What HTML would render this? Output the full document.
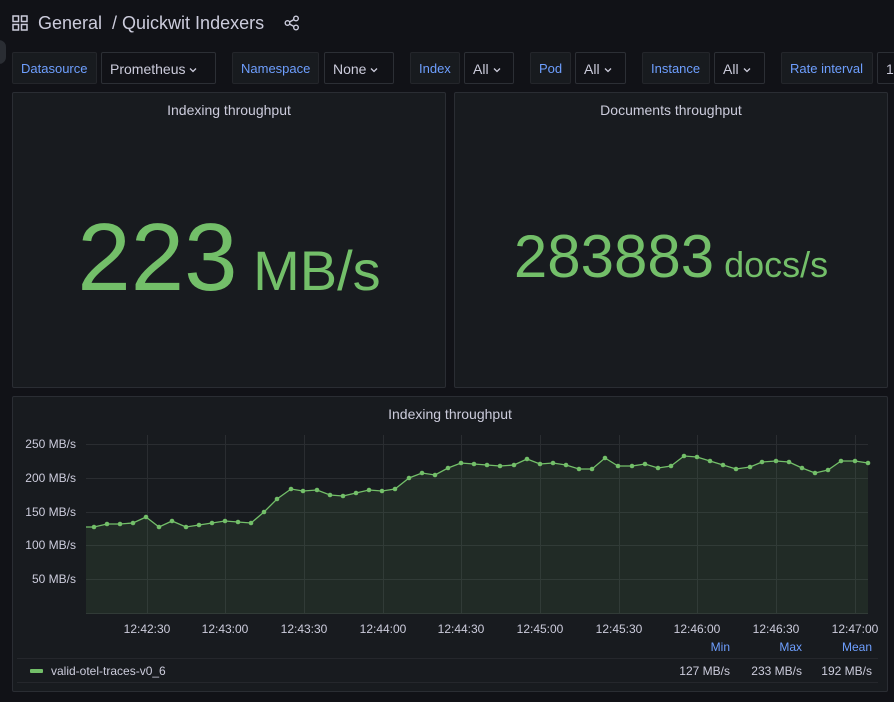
<!DOCTYPE html>
<html><head><meta charset="utf-8"><style>
*{margin:0;padding:0;box-sizing:border-box}
body{width:894px;height:702px;background:#111217;font-family:"Liberation Sans",sans-serif;color:#ccccdc;position:relative;overflow:hidden}
.a{position:absolute}
.lab{position:absolute;top:52px;height:32px;background:#181b1f;border:1px solid #24262b;border-radius:2px;color:#6e9fff;font-size:13px;line-height:32px;padding:0 8px}
.sel{position:absolute;top:52px;height:32px;background:#111217;border:1px solid #2c2f35;border-radius:2px;color:#ccccdc;font-size:14px;line-height:32px;padding:0 8px;white-space:nowrap}
.sel svg{vertical-align:middle;margin-left:4px}
.panel{position:absolute;background:#181b1f;border:1px solid #2a2d33;border-radius:2px}
.pt{position:absolute;left:0;right:0;text-align:center;font-size:14px;color:#ccccdc}
</style></head><body>
<svg class="a" style="left:12px;top:15px" width="16" height="16"><g fill="none" stroke="#ccccdc" stroke-width="1.5"><rect x="1" y="1" width="5.5" height="5.5"/><rect x="9.5" y="1" width="5.5" height="5.5"/><rect x="1" y="9.5" width="5.5" height="5.5"/><rect x="9.5" y="9.5" width="5.5" height="5.5"/></g></svg>
<div class="a" style="left:38px;top:13px;font-size:18px;color:#ccccdc">General &nbsp;/ Quickwit Indexers</div>
<svg class="a" style="left:284px;top:15px" width="16" height="16"><g fill="none" stroke="#ccccdc" stroke-width="1.4"><circle cx="12" cy="3.5" r="2.3"/><circle cx="3.5" cy="8" r="2.3"/><circle cx="12" cy="12.5" r="2.3"/><path d="M5.5 7L10 4.5M5.5 9L10 11.5"/></g></svg>
<div class="a" style="left:-8px;top:40px;width:14px;height:24px;border-radius:12px;background:#2a2d33"></div>
<div class="lab" style="left:12px;width:85px">Datasource</div>
<div class="sel" style="left:101px;width:115px">Prometheus<svg width="8" height="6"><path d="M1 1.5L4 4.5L7 1.5" fill="none" stroke="#ccccdc" stroke-width="1.3"/></svg></div>
<div class="lab" style="left:232px;width:87px">Namespace</div>
<div class="sel" style="left:324px;width:70px">None<svg width="8" height="6"><path d="M1 1.5L4 4.5L7 1.5" fill="none" stroke="#ccccdc" stroke-width="1.3"/></svg></div>
<div class="lab" style="left:410px;width:50px">Index</div>
<div class="sel" style="left:464px;width:50px">All<svg width="8" height="6"><path d="M1 1.5L4 4.5L7 1.5" fill="none" stroke="#ccccdc" stroke-width="1.3"/></svg></div>
<div class="lab" style="left:530px;width:41px">Pod</div>
<div class="sel" style="left:575px;width:51px">All<svg width="8" height="6"><path d="M1 1.5L4 4.5L7 1.5" fill="none" stroke="#ccccdc" stroke-width="1.3"/></svg></div>
<div class="lab" style="left:642px;width:68px">Instance</div>
<div class="sel" style="left:714px;width:51px">All<svg width="8" height="6"><path d="M1 1.5L4 4.5L7 1.5" fill="none" stroke="#ccccdc" stroke-width="1.3"/></svg></div>
<div class="lab" style="left:781px;width:92px">Rate interval</div>
<div class="sel" style="left:877px;width:40px">1(</div>

<div class="panel" style="left:12px;top:92px;width:434px;height:296px">
<div class="pt" style="top:9px">Indexing throughput</div>
<div class="a" style="left:0;right:0;top:110px;text-align:center;color:#73bf69;white-space:nowrap"><span style="font-size:96px;line-height:110px">223</span><span style="font-size:56px"> MB/s</span></div>
</div>
<div class="panel" style="left:454px;top:92px;width:434px;height:296px">
<div class="pt" style="top:9px">Documents throughput</div>
<div class="a" style="left:0;right:0;top:126px;text-align:center;color:#73bf69;white-space:nowrap"><span style="font-size:60px;line-height:76px">283883</span><span style="font-size:36px"> docs/s</span></div>
</div>
<div class="panel" style="left:12px;top:396px;width:876px;height:296px">
<div class="pt" style="top:9px">Indexing throughput</div>
</div>
<svg class="a" style="left:0;top:0" width="894" height="702">
<g stroke="#2a2d31" stroke-width="1">
<path d="M86 444.5H868M86 478.5H868M86 512.5H868M86 545.5H868M86 579.5H868M86 613.5H868"/>
<path d="M147.5 435V614M225.5 435V614M304.5 435V614M383.5 435V614M461.5 435V614M540.5 435V614M619.5 435V614M697.5 435V614M776.5 435V614M855.5 435V614"/>
</g>
<g font-family="Liberation Sans" font-size="12" fill="#ccccdc" text-anchor="end">
<text x="76" y="448">250 MB/s</text><text x="76" y="482">200 MB/s</text><text x="76" y="516">150 MB/s</text><text x="76" y="549">100 MB/s</text><text x="76" y="583">50 MB/s</text>
</g>
<g font-family="Liberation Sans" font-size="12" fill="#ccccdc" text-anchor="middle">
<text x="147" y="633">12:42:30</text><text x="225" y="633">12:43:00</text><text x="304" y="633">12:43:30</text><text x="383" y="633">12:44:00</text><text x="461" y="633">12:44:30</text><text x="540" y="633">12:45:00</text><text x="619" y="633">12:45:30</text><text x="697" y="633">12:46:00</text><text x="776" y="633">12:46:30</text><text x="855" y="633">12:47:00</text>
</g>
<polygon fill="#73bf69" fill-opacity="0.1" points="86,614 86,527 94,527 107,524 120,524 133,523 146,517 159,527 172,521 186,527 199,525 212,523 225,521 238,522 251,523 264,512 277,499 291,489 303,491 317,490 330,495 343,496 356,493 369,490 382,491 395,489 409,478 422,473 435,475 448,468 461,463 474,464 487,465 500,466 514,465 527,459 540,464 553,463 566,465 579,469 592,469 605,458 618,466 632,466 645,464 658,468 671,466 684,456 697,457 710,461 723,465 736,469 750,467 762,462 776,461 789,462 802,468 815,473 828,470 841,461 855,461 868,463 868,614"/>
<polyline fill="none" stroke="#73bf69" stroke-width="1.3" points="86,527 94,527 107,524 120,524 133,523 146,517 159,527 172,521 186,527 199,525 212,523 225,521 238,522 251,523 264,512 277,499 291,489 303,491 317,490 330,495 343,496 356,493 369,490 382,491 395,489 409,478 422,473 435,475 448,468 461,463 474,464 487,465 500,466 514,465 527,459 540,464 553,463 566,465 579,469 592,469 605,458 618,466 632,466 645,464 658,468 671,466 684,456 697,457 710,461 723,465 736,469 750,467 762,462 776,461 789,462 802,468 815,473 828,470 841,461 855,461 868,463"/>
<g fill="#73bf69">
<circle cx="94" cy="527" r="2.3"/><circle cx="107" cy="524" r="2.3"/><circle cx="120" cy="524" r="2.3"/><circle cx="133" cy="523" r="2.3"/><circle cx="146" cy="517" r="2.3"/><circle cx="159" cy="527" r="2.3"/><circle cx="172" cy="521" r="2.3"/><circle cx="186" cy="527" r="2.3"/><circle cx="199" cy="525" r="2.3"/><circle cx="212" cy="523" r="2.3"/><circle cx="225" cy="521" r="2.3"/><circle cx="238" cy="522" r="2.3"/><circle cx="251" cy="523" r="2.3"/><circle cx="264" cy="512" r="2.3"/><circle cx="277" cy="499" r="2.3"/><circle cx="291" cy="489" r="2.3"/><circle cx="303" cy="491" r="2.3"/><circle cx="317" cy="490" r="2.3"/><circle cx="330" cy="495" r="2.3"/><circle cx="343" cy="496" r="2.3"/><circle cx="356" cy="493" r="2.3"/><circle cx="369" cy="490" r="2.3"/><circle cx="382" cy="491" r="2.3"/><circle cx="395" cy="489" r="2.3"/><circle cx="409" cy="478" r="2.3"/><circle cx="422" cy="473" r="2.3"/><circle cx="435" cy="475" r="2.3"/><circle cx="448" cy="468" r="2.3"/><circle cx="461" cy="463" r="2.3"/><circle cx="474" cy="464" r="2.3"/><circle cx="487" cy="465" r="2.3"/><circle cx="500" cy="466" r="2.3"/><circle cx="514" cy="465" r="2.3"/><circle cx="527" cy="459" r="2.3"/><circle cx="540" cy="464" r="2.3"/><circle cx="553" cy="463" r="2.3"/><circle cx="566" cy="465" r="2.3"/><circle cx="579" cy="469" r="2.3"/><circle cx="592" cy="469" r="2.3"/><circle cx="605" cy="458" r="2.3"/><circle cx="618" cy="466" r="2.3"/><circle cx="632" cy="466" r="2.3"/><circle cx="645" cy="464" r="2.3"/><circle cx="658" cy="468" r="2.3"/><circle cx="671" cy="466" r="2.3"/><circle cx="684" cy="456" r="2.3"/><circle cx="697" cy="457" r="2.3"/><circle cx="710" cy="461" r="2.3"/><circle cx="723" cy="465" r="2.3"/><circle cx="736" cy="469" r="2.3"/><circle cx="750" cy="467" r="2.3"/><circle cx="762" cy="462" r="2.3"/><circle cx="776" cy="461" r="2.3"/><circle cx="789" cy="462" r="2.3"/><circle cx="802" cy="468" r="2.3"/><circle cx="815" cy="473" r="2.3"/><circle cx="828" cy="470" r="2.3"/><circle cx="841" cy="461" r="2.3"/><circle cx="855" cy="461" r="2.3"/><circle cx="868" cy="463" r="2.3"/>
</g>
<g font-family="Liberation Sans" font-size="12" fill="#6e9fff" text-anchor="end">
<text x="730" y="651">Min</text><text x="802" y="651">Max</text><text x="872" y="651">Mean</text>
</g>
<path d="M17 658.5H878M17 682.5H878" stroke="#25272c"/>
<rect x="30" y="669" width="13" height="4" rx="1" fill="#73bf69"/>
<g font-family="Liberation Sans" font-size="12" fill="#ccccdc">
<text x="51" y="675">valid-otel-traces-v0_6</text>
<text x="730" y="675" text-anchor="end">127 MB/s</text><text x="802" y="675" text-anchor="end">233 MB/s</text><text x="872" y="675" text-anchor="end">192 MB/s</text>
</g>
</svg>
</body></html>
